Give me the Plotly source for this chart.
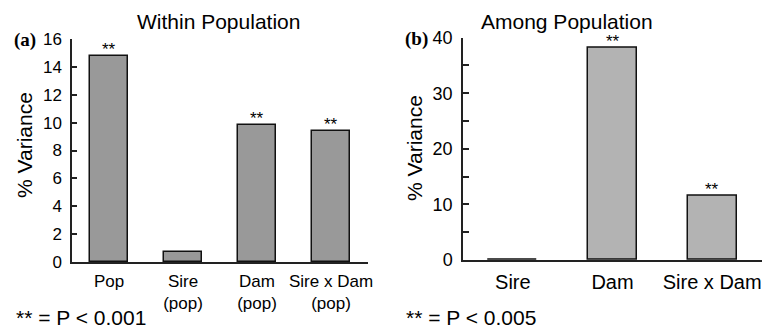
import plotly.graph_objects as go

# ---- data ----
within_cats = ["Pop", "Sire", "Dam", "Sire x Dam"]
within_second_line = ["", "(pop)", "(pop)", "(pop)"]
within_vals = [14.8, 0.7, 9.8, 9.4]
within_sig = ["**", "", "**", "**"]

among_cats = ["Sire", "Dam", "Sire x Dam"]
among_vals = [0.0, 38.2, 11.5]
among_sig = ["", "**", "**"]

# page body has an 8px default margin: size figure to fill the rest of the window
OFF = 8
W, H = 774 - OFF, 328 - OFF
FONT = "Liberation Sans, Arial, Helvetica, sans-serif"
SERIF = "Liberation Serif, Times New Roman, serif"

def py(px):
    return 1 - (px - OFF) / H

def pxx(px):
    return (px - OFF) / W

within_ticktext = [c + ("<br>" + s if s else "") for c, s in zip(within_cats, within_second_line)]

fig = go.Figure()
fig.add_trace(go.Bar(x=within_cats, y=within_vals, width=0.51,
                     marker=dict(color="#999999", line=dict(color="#111111", width=1.5)),
                     xaxis="x", yaxis="y", showlegend=False))
fig.add_trace(go.Bar(x=among_cats, y=among_vals, width=0.49,
                     marker=dict(color="#b3b3b3", line=dict(color="#111111", width=1.5)),
                     xaxis="x2", yaxis="y2", showlegend=False))

axis_common = dict(showline=True, linecolor="#222222", linewidth=1.5, showgrid=False,
                   zeroline=False, color="black", automargin=False)

fig.update_layout(
    width=W, height=H, margin=dict(l=0, r=0, t=0, b=0),
    paper_bgcolor="white", plot_bgcolor="white",
    font=dict(family=FONT, color="black"),
    bargap=0,
    xaxis=dict(domain=[pxx(72), pxx(368)], anchor="y", range=[-0.5, 3.5],
               tickmode="array", tickvals=within_cats, ticktext=within_ticktext,
               ticks="", tickfont=dict(size=17), ticklabelstandoff=3, **axis_common),
    yaxis=dict(domain=[py(262), py(39)], anchor="x", range=[0, 16], dtick=2,
               ticks="inside", ticklen=5, tickcolor="#222222", tickwidth=1.5,
               tickfont=dict(size=17), ticklabelstandoff=5, **axis_common),
    xaxis2=dict(domain=[pxx(463), pxx(762)], anchor="y2", range=[-0.5, 2.5],
                ticks="", tickfont=dict(size=20), ticklabelstandoff=3, **axis_common),
    yaxis2=dict(domain=[py(260), py(37.7)], anchor="x2", range=[0, 40], dtick=10,
                ticks="inside", ticklen=6, tickcolor="#222222", tickwidth=1.5,
                minor=dict(dtick=5, ticks="inside", ticklen=6, tickcolor="#222222", tickwidth=1.5),
                tickfont=dict(size=18), ticklabelstandoff=5, **axis_common),
)

ann = []
# significance stars
for c, v, s in zip(within_cats, within_vals, within_sig):
    if s:
        ann.append(dict(x=c, y=v, xref="x", yref="y", text=s, showarrow=False,
                        xanchor="center", yanchor="bottom", yshift=-5, font=dict(size=17)))
for c, v, s in zip(among_cats, among_vals, among_sig):
    if s:
        ann.append(dict(x=c, y=v, xref="x2", yref="y2", text=s, showarrow=False,
                        xanchor="center", yanchor="bottom", yshift=-5, font=dict(size=17)))
# titles
ann.append(dict(x=pxx(218), y=py(22), xref="paper", yref="paper", text="Within Population",
                xanchor="center", yanchor="middle", showarrow=False, font=dict(size=21)))
ann.append(dict(x=pxx(567), y=py(22), xref="paper", yref="paper", text="Among Population",
                xanchor="center", yanchor="middle", showarrow=False, font=dict(size=21)))
# panel letters
ann.append(dict(x=pxx(25), y=py(40), xref="paper", yref="paper", text="<b>(a)</b>",
                xanchor="center", yanchor="middle", showarrow=False, font=dict(size=19, family=SERIF)))
ann.append(dict(x=pxx(416), y=py(39), xref="paper", yref="paper", text="<b>(b)</b>",
                xanchor="center", yanchor="middle", showarrow=False, font=dict(size=19, family=SERIF)))
# y titles
ann.append(dict(x=pxx(24), y=py(145), xref="paper", yref="paper", text="% Variance",
                xanchor="center", yanchor="middle",
                textangle=-90, showarrow=False, font=dict(size=21)))
ann.append(dict(x=pxx(414), y=py(148), xref="paper", yref="paper", text="% Variance",
                xanchor="center", yanchor="middle",
                textangle=-90, showarrow=False, font=dict(size=21)))
# footnotes
ann.append(dict(x=pxx(14), y=py(317), xref="paper", yref="paper", text="** = P < 0.001",
                xanchor="left", yanchor="middle", showarrow=False, font=dict(size=21)))
ann.append(dict(x=pxx(404), y=py(317), xref="paper", yref="paper", text="** = P < 0.005",
                xanchor="left", yanchor="middle", showarrow=False, font=dict(size=21)))
fig.update_layout(annotations=ann)

fig.write_html("out.html")
